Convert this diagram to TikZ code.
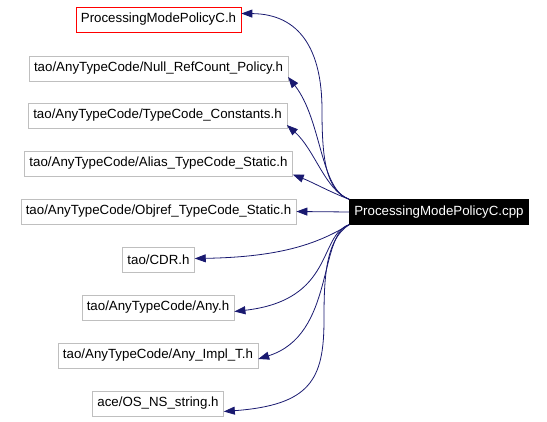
\documentclass[tikz,border=0pt]{standalone}
\usepackage{fontspec}
\setmainfont{Liberation Sans}
\usepackage{tikz}
\usetikzlibrary{arrows.meta, positioning, shapes.geometric}
\definecolor{edgeblue}{RGB}{25,25,112}
\definecolor{boxgray}{RGB}{191,191,191}

\begin{document}
\begin{tikzpicture}[x=1pt, y=-1pt,
    every node/.style={rectangle, draw=boxgray, minimum height=25pt, inner xsep=5pt, font=\fontsize{13.3}{16}\selectfont},
    dep/.style={draw=edgeblue, line width=0.8pt, -{Triangle[length=11pt,width=8pt]}}]
    \useasboundingbox (0,0) rectangle (547,422);
    \node (policy) at (158.5,19.5) [draw=red] {ProcessingModePolicyC.h};
    \node (nullref) at (158.5,68.5) {tao/AnyTypeCode/Null\_RefCount\_Policy.h};
    \node (tcconst) at (157.5,115.5) {tao/AnyTypeCode/TypeCode\_Constants.h};
    \node (alias) at (158.5,163.5) {tao/AnyTypeCode/Alias\_TypeCode\_Static.h};
    \node (objref) at (158.5,211.5) {tao/AnyTypeCode/Objref\_TypeCode\_Static.h};
    \node (cdr) at (158.5,259.5) {tao/CDR.h};
    \node (any) at (158,307.5) {tao/AnyTypeCode/Any.h};
    \node (anyimpl) at (158,355.5) {tao/AnyTypeCode/Any\_Impl\_T.h};
    \node (osstring) at (158,403.5) {ace/OS\_NS\_string.h};
    \node (cpp) at (439,212) [fill=black, draw=black, text=white] {ProcessingModePolicyC.cpp};
    \draw[dep] (cpp.north west) .. controls (326,190) and (322,160) .. (322,110) .. controls (322,50) and (300,14) .. ([yshift=6pt]policy.east);
    \draw[dep] (cpp.north west) .. controls (320,190) and (322,120) .. ([yshift=-8.5pt]nullref.east);
    \draw[dep] (cpp.north west) .. controls (325,190) and (315,150) .. ([yshift=-9.5pt]tcconst.east);
    \draw[dep] (cpp.north west) .. controls (330,192) and (312,182) .. ([yshift=-11pt]alias.east);
    \draw[dep] (cpp.west) -- (objref.east);
    \draw[dep] (cpp.south west) .. controls (320,242) and (285,257) .. ([yshift=1pt]cdr.east);
    \draw[dep] (cpp.south west) .. controls (318,235) and (335,300) .. ([yshift=-4pt]any.east);
    \draw[dep] (cpp.south west) .. controls (318,235) and (335,335) .. ([yshift=-3.5pt]anyimpl.east);
    \draw[dep] (cpp.south west) .. controls (325,240) and (324,280) .. (324,320) .. controls (324,380) and (310,405) .. ([yshift=-8pt]osstring.east);
\end{tikzpicture}
\end{document}
